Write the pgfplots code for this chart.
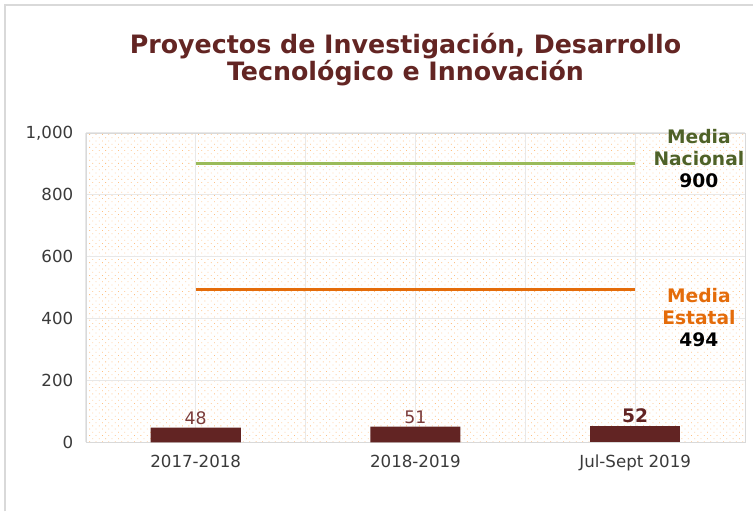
\documentclass[border=0pt]{standalone}
\usepackage{pgfplots}
\pgfplotsset{compat=1.18}
\usepackage{fontspec}
\setmainfont{DejaVu Sans}
\usetikzlibrary{patterns.meta}
\definecolor{barc}{HTML}{622423}
\definecolor{titlec}{HTML}{632523}
\definecolor{lblc}{HTML}{7A3B3A}
\definecolor{greenl}{HTML}{9BBB59}
\definecolor{greent}{HTML}{4F6228}
\definecolor{orangel}{HTML}{E46C0A}
\definecolor{tickc}{HTML}{3A3A3A}
\begin{document}
\begin{tikzpicture}
\path (0pt,0pt) rectangle (565.5pt,384pt);
\draw[gray!30,line width=1.5pt] (4pt,0pt) -- (4pt,380pt) -- (565.5pt,380pt);
\node[font=\bfseries\fontsize{19}{20.5}\selectfont, text=titlec, align=center] at (304.5pt,339pt) {Proyectos de Investigación, Desarrollo\\Tecnológico e Innovación};
\begin{axis}[
  at={(64.5pt,51.75pt)}, anchor=south west,
  scale only axis, width=495pt, height=232.5pt,
  xmin=-0.5, xmax=2.5, ymin=0, ymax=1000,
  xtick={0,1,2}, xticklabels={2017-2018,2018-2019,Jul-Sept 2019},
  minor xtick={-0.5,0.5,1.5,2.5},
  ytick={0,200,400,600,800,1000},
  xmajorgrids, xminorgrids, ymajorgrids,
  grid style={gray!18, line width=0.6pt},
  major tick length=0, minor tick length=0,
  axis line style={gray!30},
  axis background/.style={pattern={Dots[distance=3.4pt,radius=0.42pt,angle=45]}, pattern color=orange!50},
  tick label style={text=tickc, font=\fontsize{12.5}{14}\selectfont},
  xticklabel style={font=\fontsize{12.5}{14}\selectfont, yshift=-6pt},
  yticklabel style={xshift=-6pt},
  /pgf/number format/assume math mode=true,
  /pgf/number format/1000 sep={,},
  clip=false,
]
\addplot[ybar, bar width=0.41, fill=barc, draw=none,
  nodes near coords, point meta=explicit symbolic,
  every node near coord/.append style={text=lblc, font=\fontsize{13}{15}\selectfont, yshift=-1.5pt}]
  coordinates {(0,48) [48] (1,51) [51]};
\addplot[ybar, bar width=0.41, fill=barc, draw=none,
  nodes near coords, point meta=explicit symbolic,
  every node near coord/.append style={text=barc, font=\bfseries\fontsize{14}{16}\selectfont, yshift=-1pt}]
  coordinates {(2,52) [52]};
\addplot[greenl, line width=2.2pt, no marks] coordinates {(0,900) (2,900)};
\addplot[orangel, line width=2.2pt, no marks] coordinates {(0,494) (2,494)};
\node[align=center, font=\bfseries\fontsize{14}{16.5}\selectfont, text=greent] at (axis cs:2.29,916) {Media\\Nacional\\\textcolor{black}{900}};
\node[align=center, font=\bfseries\fontsize{14}{16.5}\selectfont, text=orangel] at (axis cs:2.29,403) {Media\\Estatal\\\textcolor{black}{494}};
\end{axis}
\end{tikzpicture}
\end{document}
